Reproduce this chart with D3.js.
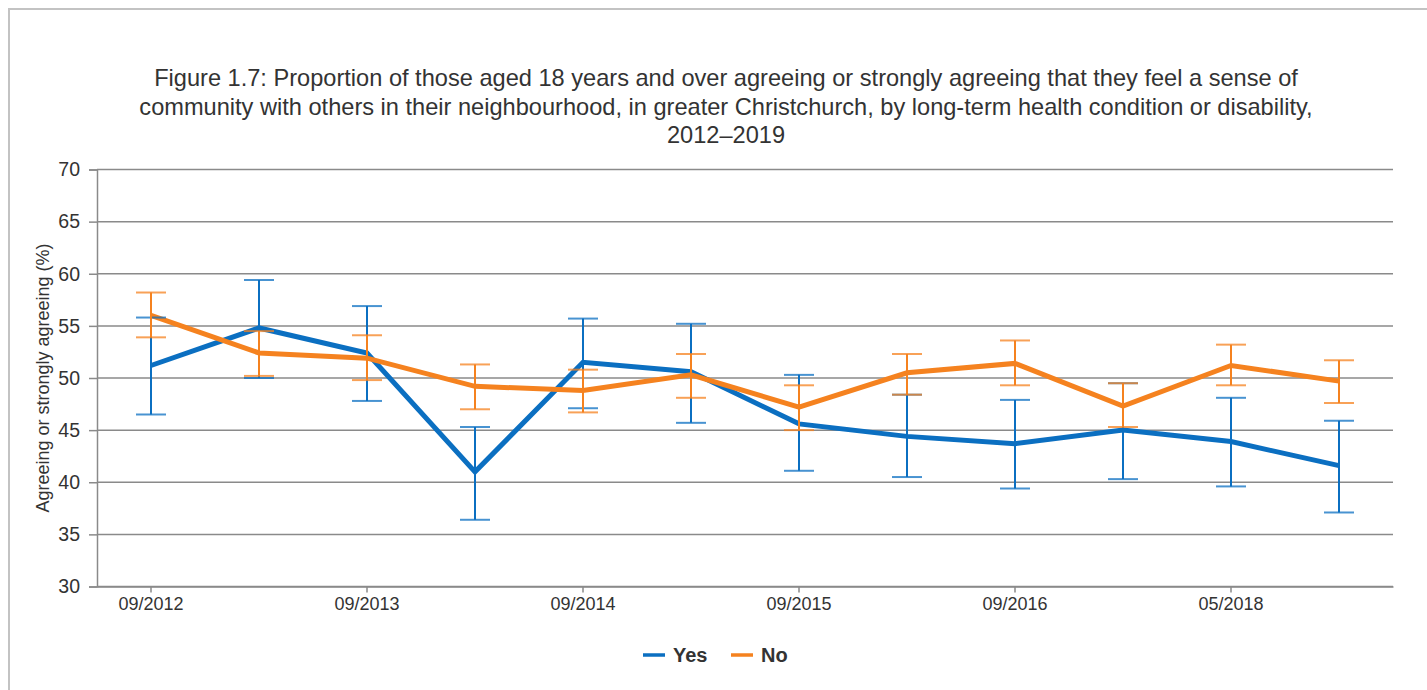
<!DOCTYPE html>
<html>
<head>
<meta charset="utf-8">
<script src="https://cdn.jsdelivr.net/npm/d3@7"></script>
<style>
  html, body { margin: 0; padding: 0; background: #fff; overflow: hidden; }
  svg { display: block; font-family: "Liberation Sans", Arial, sans-serif; }
</style>
</head>
<body>
<svg id="chart" width="1427" height="690"></svg>
<script>
// survey rounds (only every second one is labelled on the axis)
const tickLabels = ["09/2012", "", "09/2013", "", "09/2014", "", "09/2015", "", "09/2016", "", "05/2018", ""];

const yesValues = [51.2, 54.8, 52.4, 41.0, 51.5, 50.6, 45.6, 44.4, 43.7, 45.0, 43.9, 41.6];
const yesLow    = [46.5, 50.0, 47.8, 36.4, 47.1, 45.7, 41.1, 40.5, 39.4, 40.3, 39.6, 37.1];
const yesHigh   = [55.8, 59.4, 56.9, 45.3, 55.7, 55.2, 50.3, 48.4, 47.9, 49.5, 48.1, 45.9];

const noValues = [56.0, 52.4, 51.9, 49.2, 48.8, 50.3, 47.2, 50.5, 51.4, 47.3, 51.2, 49.7];
const noLow    = [53.9, 50.2, 49.8, 47.0, 46.7, 48.1, 45.0, 48.4, 49.3, 45.3, 49.3, 47.6];
const noHigh   = [58.2, 54.5, 54.1, 51.3, 50.8, 52.3, 49.3, 52.3, 53.6, 49.5, 53.2, 51.7];

const yTicks = [30, 35, 40, 45, 50, 55, 60, 65, 70];

const titleLines = [
  "Figure 1.7: Proportion of those aged 18 years and over agreeing or strongly agreeing that they feel a sense of",
  "community with others in their neighbourhood, in greater Christchurch, by long-term health condition or disability,",
  "2012\u20132019"
];

const series = [
  { name: "Yes", color: "#0b6fc1", values: yesValues, low: yesLow, high: yesHigh },
  { name: "No", color: "#f5821f", values: noValues, low: noLow, high: noHigh }
];

const svg = d3.select("#chart");
const width = +svg.attr("width");
const height = +svg.attr("height");

// frame around the whole figure (runs off the right and bottom edges)
svg.append("path")
  .attr("d", `M9,${height} V9 H${width}`)
  .attr("fill", "none")
  .attr("stroke", "#c3c3c3")
  .attr("stroke-width", 2);

const margin = { top: 169.5, right: 34, bottom: 103.5, left: 97 };
const innerWidth = width - margin.left - margin.right;
const innerHeight = height - margin.top - margin.bottom;

const root = svg.append("g")
  .attr("transform", `translate(${margin.left}, ${margin.top})`);

const x = d3.scaleBand()
  .domain(tickLabels.map((d, i) => i))
  .range([0, innerWidth])
  .padding(0);

const y = d3.scaleLinear()
  .domain([30, 70])
  .range([innerHeight, 0]);

const cx = i => x(i) + x.bandwidth() / 2;

// title
svg.append("g")
  .selectAll("text")
  .data(titleLines)
  .join("text")
  .attr("x", 726)
  .attr("y", (d, i) => 86 + i * 28.5)
  .attr("text-anchor", "middle")
  .attr("font-size", 23.6)
  .attr("fill", "#333")
  .text(d => d);

// gridlines
root.append("g")
  .selectAll("line")
  .data(yTicks)
  .join("line")
  .attr("x1", 0)
  .attr("x2", innerWidth)
  .attr("y1", d => y(d))
  .attr("y2", d => y(d))
  .attr("stroke", "#8a8a8a")
  .attr("stroke-width", 1.5);

// axes
const yAxis = root.append("g")
  .call(d3.axisLeft(y).tickValues(yTicks).tickSize(8).tickPadding(9))
  .call(g => g.select(".domain").attr("stroke", "#8a8a8a").attr("stroke-width", 1.5));
yAxis.selectAll(".tick line").attr("stroke", "#8a8a8a").attr("stroke-width", 1.5);
yAxis.selectAll("text")
  .attr("font-size", 19.5)
  .attr("font-family", "Liberation Sans, Arial, sans-serif")
  .attr("fill", "#333");

const xAxis = root.append("g")
  .attr("transform", `translate(0, ${innerHeight})`)
  .call(d3.axisBottom(x)
    .tickValues(tickLabels.map((d, i) => i).filter(i => tickLabels[i] !== ""))
    .tickFormat(i => tickLabels[i])
    .tickSize(6)
    .tickSizeOuter(0)
    .tickPadding(5))
  .call(g => g.select(".domain").attr("stroke", "#8a8a8a").attr("stroke-width", 1.5));
xAxis.selectAll(".tick line").attr("stroke", "#8a8a8a").attr("stroke-width", 1.5);
xAxis.selectAll("text")
  .attr("font-size", 18)
  .attr("font-family", "Liberation Sans, Arial, sans-serif")
  .attr("fill", "#333");

// y axis title
svg.append("text")
  .attr("transform", "rotate(-90)")
  .attr("x", -378)
  .attr("y", 49)
  .attr("text-anchor", "middle")
  .attr("font-size", 18)
  .attr("fill", "#333")
  .text("Agreeing or strongly agreeing (%)");

// lines first, error bars on top
const line = d3.line()
  .x((d, i) => cx(i))
  .y(d => y(d));

series.forEach(s => {
  root.append("path")
    .datum(s.values)
    .attr("fill", "none")
    .attr("stroke", s.color)
    .attr("stroke-width", 5)
    .attr("stroke-linejoin", "miter")
    .attr("d", line);
});

const capHalf = 15;
series.forEach(s => {
  const bars = root.append("g")
    .attr("stroke", s.color)
    .attr("stroke-width", 2)
    .selectAll("g")
    .data(s.values.map((v, i) => ({ i, low: s.low[i], high: s.high[i] })))
    .join("g");

  bars.append("line")
    .attr("x1", d => cx(d.i))
    .attr("x2", d => cx(d.i))
    .attr("y1", d => y(d.low))
    .attr("y2", d => y(d.high));

  bars.append("line")
    .attr("x1", d => cx(d.i) - capHalf)
    .attr("x2", d => cx(d.i) + capHalf)
    .attr("y1", d => y(d.high))
    .attr("y2", d => y(d.high))
    .attr("stroke-opacity", 0.75);

  bars.append("line")
    .attr("x1", d => cx(d.i) - capHalf)
    .attr("x2", d => cx(d.i) + capHalf)
    .attr("y1", d => y(d.low))
    .attr("y2", d => y(d.low))
    .attr("stroke-opacity", 0.75);
});

// legend
const legendPos = [{ lx: 643, tx: 673 }, { lx: 731, tx: 761 }];
const legend = svg.append("g")
  .selectAll("g")
  .data(series)
  .join("g");

legend.append("line")
  .attr("x1", (d, i) => legendPos[i].lx)
  .attr("x2", (d, i) => legendPos[i].lx + 22)
  .attr("y1", 655)
  .attr("y2", 655)
  .attr("stroke", d => d.color)
  .attr("stroke-width", 3.5);

legend.append("text")
  .attr("x", (d, i) => legendPos[i].tx)
  .attr("y", 662)
  .attr("font-size", 20)
  .attr("font-weight", "bold")
  .attr("fill", "#333")
  .text(d => d.name);
</script>
</body>
</html>
